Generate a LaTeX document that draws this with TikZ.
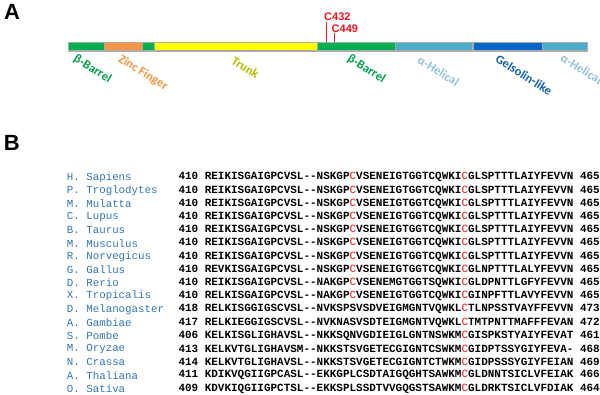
\documentclass[tikz,border=0pt]{standalone}
\usepackage{fontspec}
\setmainfont{Liberation Sans}
\setmonofont{Liberation Mono}
\newfontfamily\domfont{Carlito}
\usepackage{tikz}
\usetikzlibrary{calc}
\definecolor{barrelgreen}{RGB}{0,176,80}
\definecolor{zincorange}{RGB}{247,150,70}
\definecolor{trunkyellow}{RGB}{255,255,0}
\definecolor{helixblue}{RGB}{75,172,198}
\definecolor{gelblue}{RGB}{0,102,204}
\definecolor{trunktext}{RGB}{186,186,0}
\definecolor{helixtext}{RGB}{146,194,220}
\definecolor{geltext}{RGB}{16,96,176}
\definecolor{cysred}{RGB}{232,20,30}
\definecolor{nameblue}{RGB}{52,116,178}
\def\cys{\textcolor{cysred}{\mdseries C}}
\tikzset{
  panel/.style={font=\fontsize{22}{22}\selectfont\bfseries, inner sep=0pt},
  seg/.style={draw=gray!65, line width=1.2pt},
  domlabel/.style={font=\domfont\fontsize{12.5}{12.5}\selectfont\bfseries, rotate=-32, inner sep=0pt},
  site/.style={text=cysred, font=\fontsize{11}{11}\selectfont\bfseries, inner sep=0pt, anchor=south west},
  siteline/.style={draw=cysred, line width=0.9pt},
  species/.style={anchor=west, inner sep=0pt, text=nameblue, font=\ttfamily\fontsize{10.8}{13}\selectfont},
  seqline/.style={anchor=west, inner sep=0pt, font=\ttfamily\bfseries\fontsize{10.97}{13}\selectfont}
}

\begin{document}
\begin{tikzpicture}[x=1pt,y=-1pt]
\useasboundingbox (0,0) rectangle (600,395);
% panel A: domain map
\node[panel] (pa) at (12,12) {A};
\draw[seg, fill=barrelgreen] (68.3,42.7) rectangle (104.3,51);
\draw[seg, fill=zincorange] (104.3,42.7) rectangle (142.3,51);
\draw[seg, fill=barrelgreen] (142.3,42.7) rectangle (154.3,51);
\draw[seg, fill=trunkyellow] (154.3,42.7) rectangle (317.7,51);
\draw[seg, fill=barrelgreen] (317.7,42.7) rectangle (395.4,51);
\draw[seg, fill=helixblue] (395.4,42.7) rectangle (473,51);
\draw[seg, fill=gelblue] (473,42.7) rectangle (542.3,51);
\draw[seg, fill=helixblue] (542.3,42.7) rectangle (587.3,51);
\node[domlabel, text=barrelgreen!90!black] (barrelA) at (92.5,69) {β-Barrel};
\node[domlabel, text=zincorange] (zinc) at (143,73) {Zinc Finger};
\node[domlabel, text=trunktext] (trunk) at (245.5,67.5) {Trunk};
\node[domlabel, text=barrelgreen!90!black] (barrelB) at (366.5,69) {β-Barrel};
\node[domlabel, text=helixtext] (helixA) at (438.5,71) {α-Helical};
\node[domlabel, text=geltext] (gelsolin) at (524,75) {Gelsolin-like};
\node[domlabel, text=helixtext] (helixB) at (581.5,69) {α-Helical};
% cysteine sites
\coordinate (pos432) at (326,42.3);
\coordinate (pos449) at (334,42.3);
\node[site] (lbl432) at (324,20.5) {C432};
\node[site] (lbl449) at (331.5,32.5) {C449};
\draw[siteline] (pos432) -- ([yshift=-2pt]pos432 |- lbl432.south);
\draw[siteline] (pos449) -- ([yshift=-1pt]pos449 |- lbl449.south);
% panel B: alignment
\node[panel] (pb) at (11.7,143.3) {B};
\node[species] (sapiens) at (66.7,177.3) {H. Sapiens};
\node[seqline] (sapiensseq) at (178.3,177.3) {410 REIKISGAIGPCVSL--NSKGP\cys VSENEIGTGGTCQWKI\cys GLSPTTTLAIYFEVVN 465};
\node[species] (troglo) at (66.7,190.5) {P. Troglodytes};
\node[seqline] (trogloseq) at (178.3,190.5) {410 REIKISGAIGPCVSL--NSKGP\cys VSENEIGTGGTCQWKI\cys GLSPTTTLAIYFEVVN 465};
\node[species] (mulatta) at (66.7,203.7) {M. Mulatta};
\node[seqline] (mulattaseq) at (178.3,203.7) {410 REIKISGAIGPCVSL--NSKGP\cys VSENEIGTGGTCQWKI\cys GLSPTTTLAIYFEVVN 465};
\node[species] (lupus) at (66.7,216.9) {C. Lupus};
\node[seqline] (lupusseq) at (178.3,216.9) {410 REIKISGAIGPCVSL--NSKGP\cys VSENEIGTGGTCQWKI\cys GLSPTTTLAIYFEVVN 465};
\node[species] (taurus) at (66.7,230.1) {B. Taurus};
\node[seqline] (taurusseq) at (178.3,230.1) {410 REIKISGAIGPCVSL--NSKGP\cys VSENEIGTGGTCQWKI\cys GLSPTTTLAIYFEVVN 465};
\node[species] (musculus) at (66.7,243.3) {M. Musculus};
\node[seqline] (musculusseq) at (178.3,243.3) {410 REIKISGAIGPCVSL--NSKGP\cys VSENEIGTGGTCQWKI\cys GLSPTTTLAIYFEVVN 465};
\node[species] (norveg) at (66.7,256.5) {R. Norvegicus};
\node[seqline] (norvegseq) at (178.3,256.5) {410 REIKISGAIGPCVSL--NSKGP\cys VSENEIGTGGTCQWKI\cys GLSPTTTLAIYFEVVN 465};
\node[species] (gallus) at (66.7,269.7) {G. Gallus};
\node[seqline] (gallusseq) at (178.3,269.7) {410 REVKISGAIGPCVSL--NSKGP\cys VSENEIGTGGTCQWKI\cys GLNPTTTLALYFEVVN 465};
\node[species] (rerio) at (66.7,282.9) {D. Rerio};
\node[seqline] (rerioseq) at (178.3,282.9) {410 REIKISGAIGPCVSL--NAKGP\cys VSENEMGTGGTSQWKI\cys GLDPNTTLGFYFEVVN 465};
\node[species] (tropic) at (66.7,296.1) {X. Tropicalis};
\node[seqline] (tropicseq) at (178.3,296.1) {410 RELKISGAIGPCVSL--NAKGP\cys VSENEIGTGGTCQWKI\cys GINPFTTLAVYFEVVN 465};
\node[species] (melano) at (66.7,309.3) {D. Melanogaster};
\node[seqline] (melanoseq) at (178.3,309.3) {418 RELKISGGIGSCVSL--NVKSPSVSDVEIGMGNTVQWKL\cys TLNPSSTVAYFFEVVN 473};
\node[species] (gambiae) at (66.7,322.5) {A. Gambiae};
\node[seqline] (gambiaeseq) at (178.3,322.5) {417 RELKIEGGIGSCVSL--NVKNASVSDTEIGMGNTVQWKL\cys TMTPNTTMAFFFEVAN 472};
\node[species] (pombe) at (66.7,335.7) {S. Pombe};
\node[seqline] (pombeseq) at (178.3,335.7) {406 KELKISGLIGHAVSL--NKKSQNVGDIEIGLGNTNSWKM\cys GISPKSTYAIYFEVAT 461};
\node[species] (oryzae) at (66.7,348.9) {M. Oryzae};
\node[seqline] (oryzaeseq) at (178.3,348.9) {413 KELKVTGLIGHAVSM--NKKSTSVGETECGIGNTCSWKM\cys GIDPTSSYGIYFEVA- 468};
\node[species] (crassa) at (66.7,362.1) {N. Crassa};
\node[seqline] (crassaseq) at (178.3,362.1) {414 KELKVTGLIGHAVSL--NKKSTSVGETECGIGNTCTWKM\cys GIDPSSSYGIYFEIAN 469};
\node[species] (thaliana) at (66.7,375.3) {A. Thaliana};
\node[seqline] (thalianaseq) at (178.3,375.3) {411 KDIKVQGIIGPCASL--EKKGPLCSDTAIGQGHTSAWKM\cys GLDNNTSICLVFEIAK 466};
\node[species] (sativa) at (66.7,388.5) {O. Sativa};
\node[seqline] (sativaseq) at (178.3,388.5) {409 KDVKIQGIIGPCTSL--EKKSPLSSDTVVGQGSTSAWKM\cys GLDRKTSICLVFDIAK 464};
\end{tikzpicture}
\end{document}
